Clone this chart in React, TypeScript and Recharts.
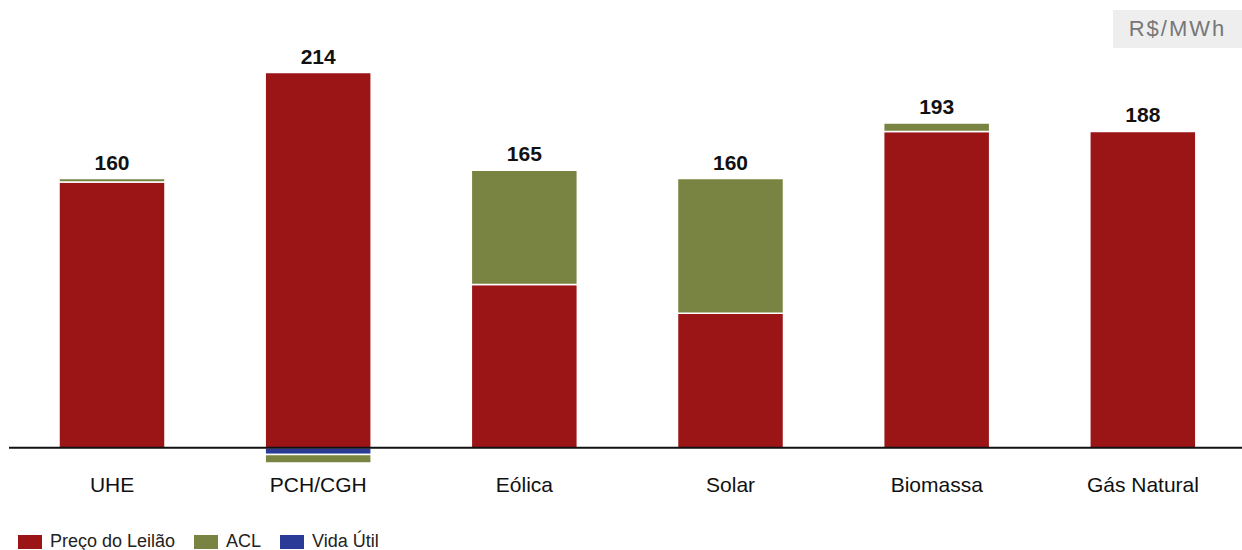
import { BarChart, Bar, XAxis, YAxis, ReferenceLine, LabelList } from 'recharts';

const categories = ['UHE', 'PCH/CGH', 'Eólica', 'Solar', 'Biomassa', 'Gás Natural'];
const precoLeilao = [158, 223, 97, 80, 188, 188];
const acl = [2, -5, 68, 80, 5, 0];
const vidaUtil = [0, -4, 0, 0, 0, 0];

const COLORS = {
  preco: '#9b1517',
  acl: '#7a8442',
  vida: '#293b97',
};

const FONT = "'Liberation Sans', Arial, sans-serif";

const chartData = categories.map((name, i) => ({
  name,
  preco: precoLeilao[i],
  acl: acl[i],
  vida: vidaUtil[i],
  total: precoLeilao[i] + acl[i] + vidaUtil[i],
}));

// total sits above the whole positive stack (red + green on top)
const renderTotal = (props: any) => {
  const { x, y, width, height, value, index } = props;
  const row = chartData[index];
  if (!row) return null;
  const pxPerUnit = height / value;
  const topY = y - Math.max(row.acl, 0) * pxPerUnit;
  return (
    <text
      x={x + width / 2}
      y={topY - 9}
      textAnchor="middle"
      fontFamily={FONT}
      fontSize={21}
      fontWeight="bold"
      fill="#111"
    >
      {row.total}
    </text>
  );
};

const legendItems = [
  { label: 'Preço do Leilão', color: COLORS.preco },
  { label: 'ACL', color: COLORS.acl },
  { label: 'Vida Útil', color: COLORS.vida },
];

export default function App() {
  return (
    <div
      style={{
        position: 'absolute',
        left: 0,
        top: 0,
        width: 1242,
        height: 550,
        background: '#fff',
        fontFamily: FONT,
        overflow: 'hidden',
      }}
    >
      <BarChart
        width={1246}
        height={500}
        data={chartData}
        stackOffset="sign"
        margin={{ top: 44, right: 0, left: 9, bottom: 2 }}
      >
        <XAxis
          dataKey="name"
          axisLine={false}
          tickLine={false}
          tickMargin={3}
          height={30}
          interval={0}
          tick={{ fontSize: 21, fill: '#111', fontFamily: FONT }}
        />
        <YAxis hide domain={[-12, 240]} />
        <Bar dataKey="preco" stackId="a" fill={COLORS.preco} stroke="#fff" strokeWidth={1.5} barSize={106} isAnimationActive={false}>
          <LabelList dataKey="preco" content={renderTotal} />
        </Bar>
        <Bar dataKey="vida" stackId="a" fill={COLORS.vida} stroke="#fff" strokeWidth={1.5} barSize={106} isAnimationActive={false} />
        <Bar dataKey="acl" stackId="a" fill={COLORS.acl} stroke="#fff" strokeWidth={1.5} barSize={106} isAnimationActive={false} />
        <ReferenceLine y={0} stroke="#111" strokeWidth={2} />
      </BarChart>

      <div
        style={{
          position: 'absolute',
          left: 1113,
          top: 10,
          width: 129,
          height: 38,
          background: '#eeeeee',
          color: '#777',
          fontSize: 22,
          lineHeight: '38px',
          textAlign: 'center',
          letterSpacing: 2,
        }}
      >
        R$/MWh
      </div>

      <div
        style={{
          position: 'absolute',
          left: 18,
          top: 531,
          display: 'flex',
          alignItems: 'center',
          fontSize: 18,
          color: '#222',
        }}
      >
        {legendItems.map((item) => (
          <div key={item.label} style={{ display: 'flex', alignItems: 'center', marginRight: 19 }}>
            <span style={{ width: 24, height: 14, background: item.color, display: 'inline-block', marginRight: 8 }} />
            <span>{item.label}</span>
          </div>
        ))}
      </div>
    </div>
  );
}
